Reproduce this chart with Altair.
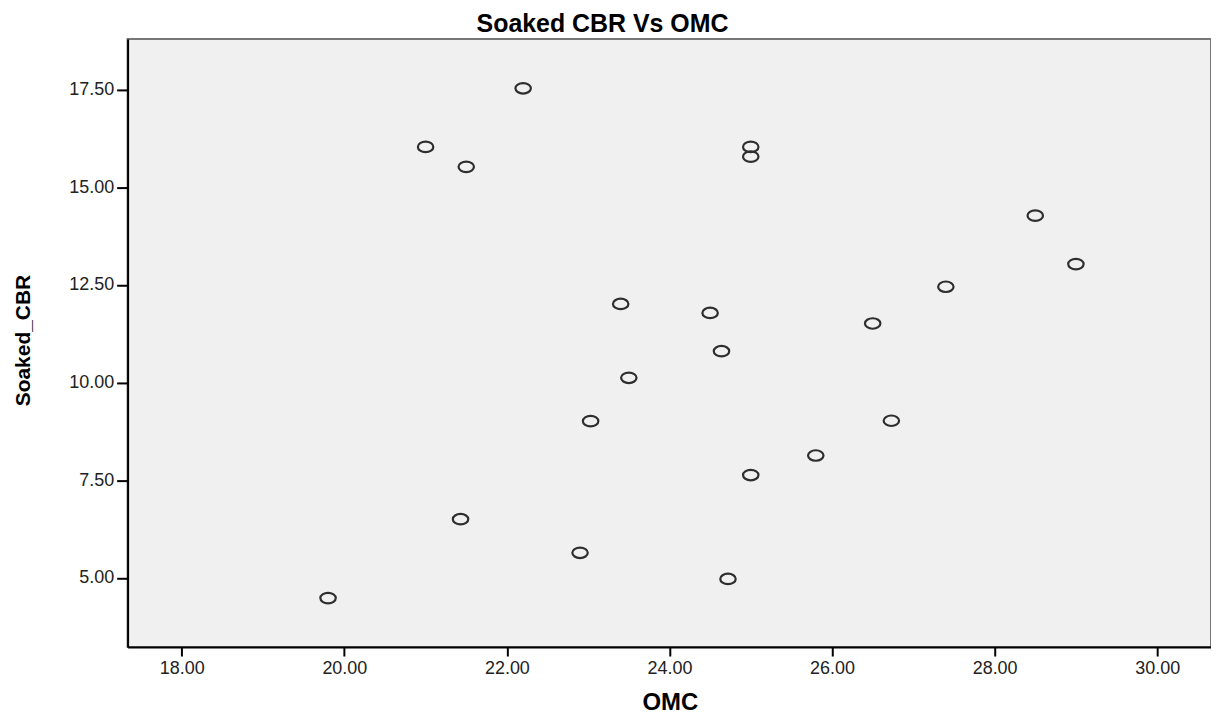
import altair as alt
import pandas as pd

# Data
omc = [19.80, 21.00, 21.43, 21.50, 22.20, 22.90, 23.03, 23.40, 23.50, 24.50, 24.64,
       24.72, 25.00, 25.00, 25.00, 25.80, 26.50, 26.73, 27.40, 28.50, 29.00]
soaked_cbr = [4.48, 16.03, 6.50, 15.52, 17.53, 5.64, 9.01, 12.01, 10.12, 11.78, 10.80,
              4.97, 16.03, 15.78, 7.63, 8.13, 11.51, 9.02, 12.45, 14.27, 13.03]

x_ticks = [18, 20, 22, 24, 26, 28, 30]
y_ticks = [5.0, 7.5, 10.0, 12.5, 15.0, 17.5]
x_domain = [17.334, 30.662]
y_domain = [3.227, 18.79]

df = pd.DataFrame({"OMC": omc, "Soaked_CBR": soaked_cbr})

FONT = "Liberation Sans"
ellipse = "M -1 0 A 1 0.68 0 1 0 1 0 A 1 0.68 0 1 0 -1 0 Z"

chart = (
    alt.Chart(df)
    .mark_point(shape=ellipse, filled=False, size=240, strokeWidth=2.2,
                color="#2e2e2e", opacity=1)
    .encode(
        x=alt.X("OMC:Q",
                scale=alt.Scale(domain=x_domain, nice=False, zero=False),
                axis=alt.Axis(values=x_ticks, format=".2f", title="OMC",
                              titleX=544, titleY=56, titleBaseline="middle",
                              titleFontSize=24)),
        y=alt.Y("Soaked_CBR:Q",
                scale=alt.Scale(domain=y_domain, nice=False, zero=False),
                axis=alt.Axis(values=y_ticks, format=".2f", title="Soaked_CBR",
                              titleX=-104, titleY=302, titleBaseline="middle",
                              titleFontSize=21, tickSize=11, labelPadding=3)),
    )
    .properties(
        width=1087, height=610,
        title=alt.TitleParams("Soaked CBR Vs OMC", font=FONT, fontSize=25,
                              fontWeight="bold", color="#000000",
                              anchor="middle", dx=-67, dy=28, offset=10,
                              baseline="alphabetic"),
        autosize=alt.AutoSizeParams(type="none"),
        padding={"left": 120, "top": 30, "right": 0, "bottom": 72},
    )
    .configure_view(fill="#F0F0F0", stroke="#777777", strokeWidth=2)
    .configure_axis(
        grid=False,
        domainColor="#000000", domainWidth=2,
        tickColor="#000000", tickWidth=2, tickSize=9,
        labelFont=FONT, labelFontSize=18, labelColor="#222222",
        labelPadding=4,
        titleFont=FONT, titleFontWeight="bold", titleColor="#000000",
    )
)

chart.save("out.html", embed_options={"renderer": "svg", "actions": False})
